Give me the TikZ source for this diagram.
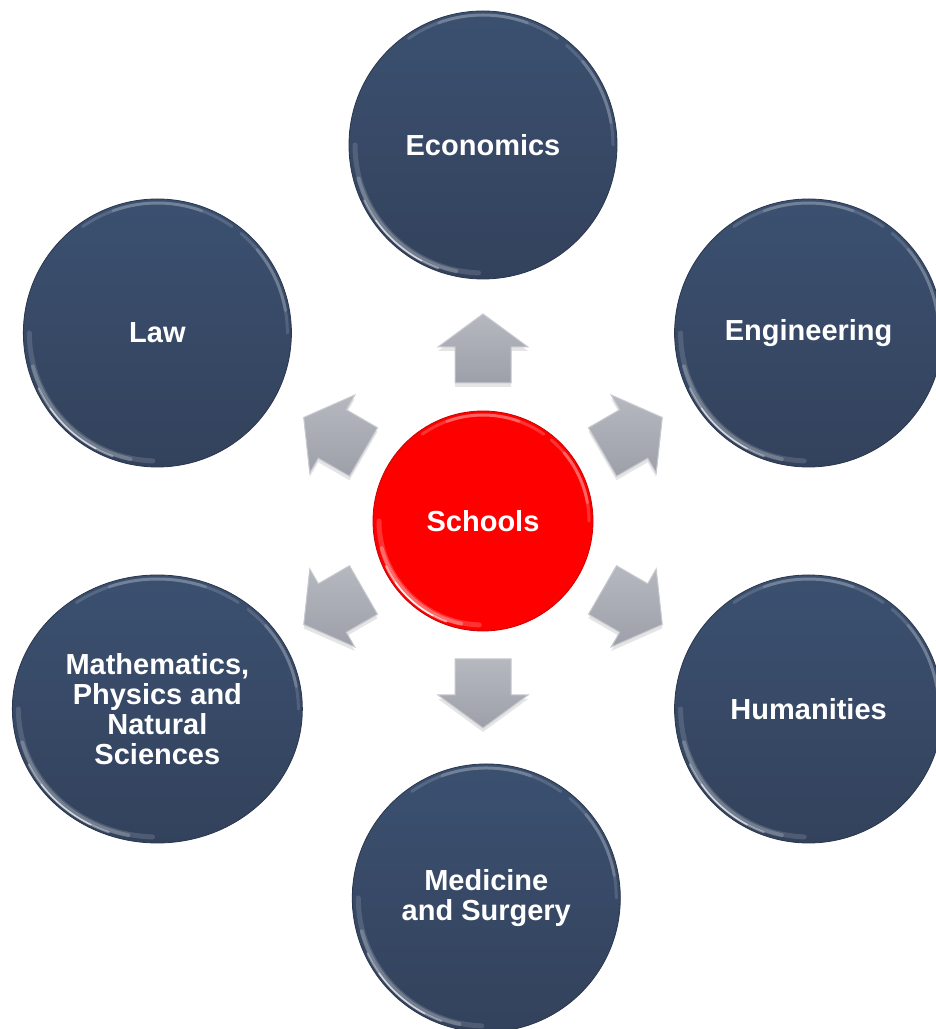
\documentclass[tikz,border=0pt]{standalone}
\usepackage{fontspec}
\setmainfont{Liberation Sans}
\usetikzlibrary{shapes.geometric,backgrounds,calc}
\definecolor{navtop}{HTML}{3B5070}
\definecolor{navbot}{HTML}{33425C}
\definecolor{navedge}{HTML}{2A364C}
\definecolor{redc}{HTML}{FF0000}
\definecolor{arrtop}{HTML}{B5B8BF}
\definecolor{arrbot}{HTML}{9DA0A8}
\definecolor{arredge}{HTML}{C6C9CF}
\tikzset{
  labelfont/.style={text=white, font=\fontsize{29}{30}\selectfont\bfseries, align=center},
  unit/.style={circle, minimum size=268pt, inner sep=0pt, top color=navtop, bottom color=navbot,
    draw=navedge, line width=0.8pt, labelfont},
  hub/.style={circle, minimum size=220pt, inner sep=0pt, fill=redc, draw=red!80!black,
    line width=0.8pt, labelfont},
  blockarrow/.style={top color=arrtop, bottom color=arrbot, draw=arredge, line width=1pt, line join=miter},
  arrowshadow/.style={fill=black, opacity=0.10},
  gloss/.style={white, line cap=round},
}
\newcommand\glossrim[4]{% node, rx, ry, strength
  \foreach \a/\b/\o/\w/\d in {180/268/0.08/5/6, 195/258/0.12/4/5, 205/250/0.22/2/3, 215/242/0.35/1.4/3}{
    \pgfmathsetmacro\oo{min(1,\o*#4)}
    \pgfmathsetmacro\grx{#2-\d}
    \pgfmathsetmacro\gry{#3-\d}
    \draw[gloss, opacity=\oo, line width=\w pt]
      ([shift={(\a:{\grx} and {\gry})}]#1.center) arc[start angle=\a, end angle=\b, x radius=\grx, y radius=\gry];
  }
  \foreach \a/\b/\o in {55/125/0.08, 70/110/0.10, 0/50/0.08, 10/40/0.10}{
    \pgfmathsetmacro\oo{min(1,\o*#4)}
    \pgfmathsetmacro\grx{#2-4}
    \pgfmathsetmacro\gry{#3-4}
    \draw[gloss, opacity=\oo, line width=3pt]
      ([shift={(\a:{\grx} and {\gry})}]#1.center) arc[start angle=\a, end angle=\b, x radius=\grx, y radius=\gry];
  }
}
\begin{document}
\begin{tikzpicture}[x=1pt,y=1pt]
\useasboundingbox (0,0) rectangle (936,1029);
\fill[white] (0,0) rectangle (936,1029);

% hub
\node[hub] (S) at (483,508) {Schools};

% outer circles
\node[unit] (eco) at ($(S.center)+(90:376)$) {Economics};
\node[unit] (eng) at ($(S.center)+(30:376)$) {Engineering};
\node[unit] (hum) at ($(S.center)+(-30:376)$) {Humanities};
\node[unit] (med) at ($(S.center)+(-89.5:377)$) {Medicine\\and Surgery};
\node[unit, ellipse, minimum width=290pt, minimum height=268pt] (mat) at ($(S.center)+(-150:376)$)
  {Mathematics,\\Physics and\\Natural\\Sciences};
\node[unit] (law) at ($(S.center)+(150:376)$) {Law};

% shadows
\begin{scope}[on background layer]
  \foreach \n/\sx/\sy in {eco/134/134, eng/134/134, hum/134/134, med/134/134, mat/145/134, law/134/134, S/110/110}{
    \foreach \k in {0,...,6}{
      \pgfmathsetmacro\ax{\sx-4+1.6*\k}
      \pgfmathsetmacro\ay{\sy-4+1.6*\k}
      \fill[black, opacity=0.045] ([yshift=-6pt]\n.center) ellipse [x radius=\ax, y radius=\ay];
    }
  }
\end{scope}

% gloss rims
\glossrim{eco}{134}{134}{1.7}
\glossrim{eng}{134}{134}{1.7}
\glossrim{hum}{134}{134}{1.7}
\glossrim{med}{134}{134}{1.7}
\glossrim{law}{134}{134}{1.7}
\glossrim{mat}{145}{134}{1.7}
\glossrim{S}{110}{110}{2.4}

% block arrows
\foreach \ang in {90,30,-30,-90,-150,150}{
  \begin{scope}[shift={(S.center)}, rotate=\ang]
    \fill[arrowshadow] ($(138,-28)+(-90-\ang:4)$) -- ($(174,-28)+(-90-\ang:4)$)
      -- ($(174,-45)+(-90-\ang:4)$) -- ($(207,0)+(-90-\ang:4)$) -- ($(174,45)+(-90-\ang:4)$)
      -- ($(174,28)+(-90-\ang:4)$) -- ($(138,28)+(-90-\ang:4)$) -- cycle;
    \path[blockarrow] (138,-28) -- (174,-28) -- (174,-45) -- (207,0) -- (174,45) -- (174,28) -- (138,28) -- cycle;
  \end{scope}
}
\end{tikzpicture}
\end{document}
